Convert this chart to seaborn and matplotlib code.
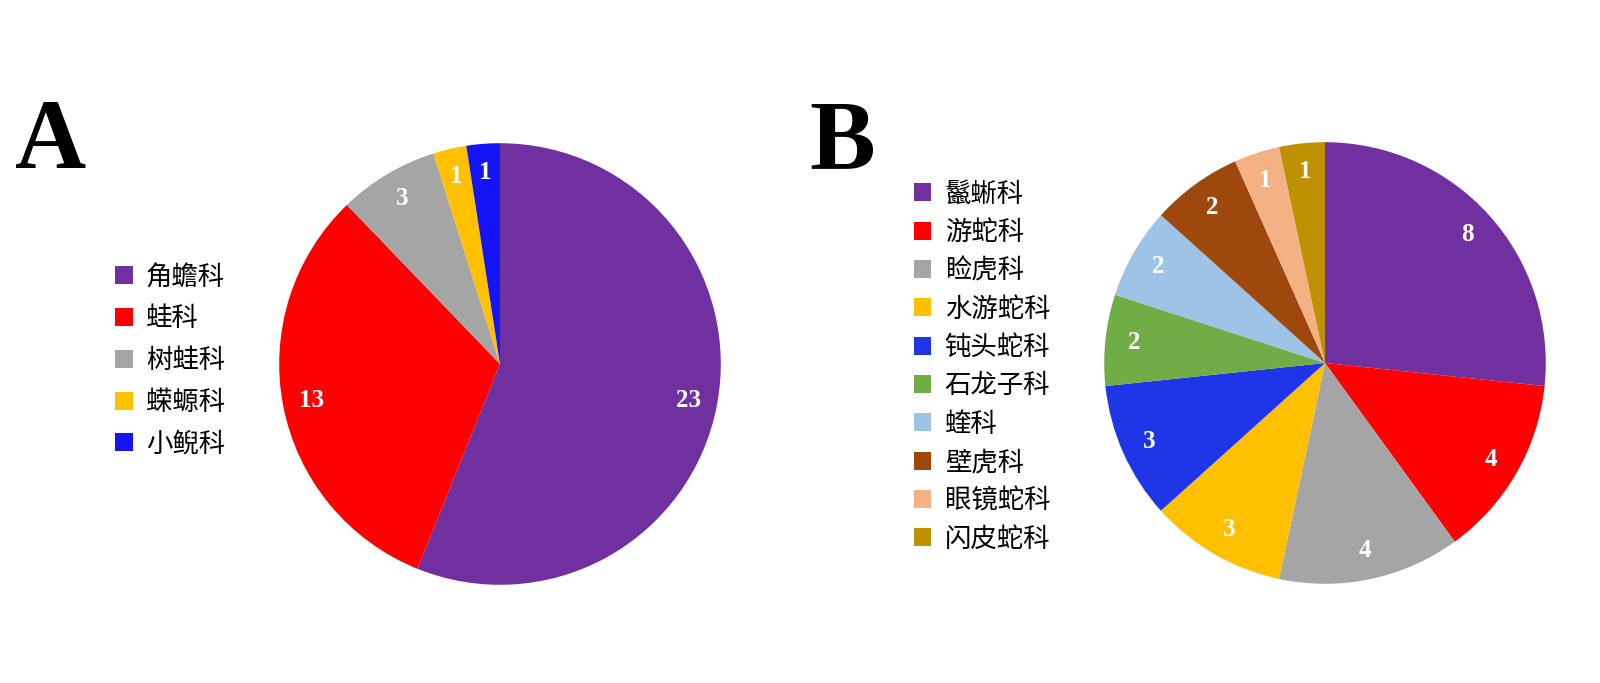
import matplotlib
matplotlib.use("Agg")
import matplotlib.pyplot as plt
import numpy as np
import seaborn as sns

# Panel A: amphibian families
families_a = ["角蟾科", "蛙科", "树蛙科", "蝾螈科", "小鲵科"]
counts_a = [23, 13, 3, 1, 1]
colors_a = ["#7030A0", "#FF0000", "#A5A5A5", "#FFC000", "#1414F5"]

# Panel B: reptile families
families_b = ["鬣蜥科", "游蛇科", "睑虎科", "水游蛇科", "钝头蛇科",
              "石龙子科", "蝰科", "壁虎科", "眼镜蛇科", "闪皮蛇科"]
counts_b = [8, 4, 4, 3, 3, 2, 2, 2, 1, 1]
colors_b = ["#7030A0", "#FF0000", "#A5A5A5", "#FFC000", "#1F35E8",
            "#70AD47", "#9DC3E6", "#9E480E", "#F4B183", "#BF9000"]

sns.set_style("white")
plt.rcParams["font.family"] = ["Noto Sans CJK SC", "DejaVu Sans"]
plt.rcParams["text.color"] = "black"

W, H = 1600, 683
fig = plt.figure(figsize=(W / 100, H / 100), dpi=100)


def pie_panel(cx, cy, r, counts, colors):
    ax = fig.add_axes([(cx - r) / W, (H - cy - r) / H, 2 * r / W, 2 * r / H])
    wedges, _ = ax.pie(counts, colors=sns.color_palette(colors),
                       startangle=90, counterclock=False, radius=1,
                       wedgeprops=dict(linewidth=0))
    total = sum(counts)
    cum = 0
    for v in counts:
        mid = cum + v / 2
        ang = np.deg2rad(90 - mid / total * 360)
        ax.text(0.87 * np.cos(ang), 0.87 * np.sin(ang), str(v),
                ha="center", va="center", color="white", fontsize=18,
                fontweight="bold", family=["Liberation Serif"])
        cum += v
    ax.set_xlim(-1.01, 1.01)
    ax.set_ylim(-1.01, 1.01)
    ax.set_aspect("equal")
    ax.axis("off")
    return wedges


wa = pie_panel(500, 364, 223, counts_a, colors_a)
wb = pie_panel(1325, 363, 223, counts_b, colors_b)

legend_kw = dict(loc="upper left", frameon=False, fontsize=19,
                 handlelength=0.68, handleheight=0.68, handletextpad=0.5,
                 borderaxespad=0, labelcolor="black")
fig.legend(wa, families_a, bbox_to_anchor=(104 / W, 1 - 253 / H),
           labelspacing=0.56, **legend_kw)
fig.legend(wb, families_b, bbox_to_anchor=(903 / W, 1 - 170 / H),
           labelspacing=0.43, **legend_kw)

fig.text(15 / W, 1 - 168 / H, "A", fontsize=71, fontweight="bold",
         color="black", family=["Liberation Serif"], ha="left", va="baseline")
fig.text(809 / W, 1 - 168 / H, "B", fontsize=71, fontweight="bold",
         color="black", family=["Liberation Serif"], ha="left", va="baseline")

fig.savefig("out.png", dpi=100, facecolor="white")
